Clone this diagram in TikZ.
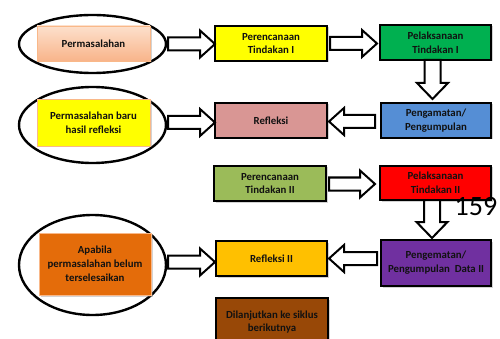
\documentclass[tikz,border=0pt]{standalone}
\usepackage{fontspec}
\setmainfont{Carlito}
\usetikzlibrary{shadows,shapes.geometric}
\definecolor{txt}{HTML}{111111}
\definecolor{peachT}{HTML}{FDE0CC}
\definecolor{peachB}{HTML}{F8B48A}
\definecolor{peachE}{HTML}{F9B889}
\definecolor{cYel}{HTML}{FFFF00}
\definecolor{cGreen}{HTML}{00B050}
\definecolor{cPink}{HTML}{D99694}
\definecolor{cBlue}{HTML}{558ED5}
\definecolor{cOlive}{HTML}{9BBB59}
\definecolor{cRed}{HTML}{FF0000}
\definecolor{cGold}{HTML}{FFC000}
\definecolor{cPurple}{HTML}{7030A0}
\definecolor{cBrown}{HTML}{984807}
\definecolor{cOrange}{HTML}{E46C0A}
\tikzset{
  box/.style={draw=black, line width=1.1pt, align=center, text=txt,
    font=\bfseries\fontsize{10.8}{13.8}\selectfont, inner sep=1pt,
    drop shadow={shadow xshift=1.5pt, shadow yshift=-1.5pt, opacity=0.35}},
  lightbox/.style={box, draw=peachE, line width=0.9pt},
  oval/.style={draw=black, line width=2.4pt, ellipse, inner sep=0pt},
  barrow/.style={draw=black, fill=white, line width=2pt, line join=miter},
}
% right-pointing block arrow: #1 tail x, #2 tip x, #3 centre y
\newcommand\rblock[3]{\draw[barrow] (#1,#3-6.5) -- (#2-15,#3-6.5) -- (#2-15,#3-13.5) -- (#2,#3) -- (#2-15,#3+13.5) -- (#2-15,#3+6.5) -- (#1,#3+6.5) -- cycle;}
% left-pointing block arrow: #1 tail x, #2 tip x, #3 centre y
\newcommand\lblock[3]{\draw[barrow] (#1,#3-6.5) -- (#2+15,#3-6.5) -- (#2+15,#3-13.5) -- (#2,#3) -- (#2+15,#3+13.5) -- (#2+15,#3+6.5) -- (#1,#3+6.5) -- cycle;}
% down-pointing block arrow: #1 centre x, #2 tail y, #3 tip y
\newcommand\dblock[3]{\draw[barrow] (#1-8,#2) -- (#1+8,#2) -- (#1+8,#3-16) -- (#1+15.5,#3-16) -- (#1,#3) -- (#1-15.5,#3-16) -- (#1-8,#3-16) -- (#1-8,#2) -- cycle;}
\begin{document}
\begin{tikzpicture}[x=1pt,y=-1pt]
\useasboundingbox (0,0) rectangle (500,339);
\clip (0,0) rectangle (500,339);
% ellipses
\node[oval, minimum width=147pt, minimum height=58pt] (e1) at (92.5,44) {};
\node[oval, minimum width=147pt, minimum height=76pt] (e2) at (92.5,125) {};
\node[oval, minimum width=147pt, minimum height=100pt] (e3) at (92.5,265) {};
% boxes
\node[lightbox, top color=peachT, bottom color=peachB, minimum width=113pt, minimum height=35pt] (perm) at (93.5,43.5) {Permasalahan};
\node[box, fill=cYel, minimum width=112pt, minimum height=35pt] (ren1) at (271,43.5) {Perencanaan\\Tindakan I};
\node[box, fill=cGreen, minimum width=111pt, minimum height=35pt] (pel1) at (435.5,42.5) {Pelaksanaan\\Tindakan I};
\node[lightbox, fill=cYel, minimum width=113pt, minimum height=47pt] (baru) at (93.5,122.5) {Permasalahan baru\\hasil refleksi};
\node[box, fill=cPink, minimum width=112pt, minimum height=35pt] (ref1) at (271,120.5) {Refleksi};
\node[box, fill=cBlue, minimum width=110pt, minimum height=35pt] (pen1) at (436,120.5) {Pengamatan/\\Pengumpulan};
\node[box, fill=cOlive, minimum width=112pt, minimum height=35pt] (ren2) at (270,183.5) {Perencanaan\\Tindakan II};
\node[box, fill=cRed, minimum width=111pt, minimum height=34pt] (pel2) at (435.5,183) {Pelaksanaan\\Tindakan II};
\node[lightbox, fill=cOrange, minimum width=112pt, minimum height=62pt] (apa) at (95,264) {Apabila\\permasalahan belum\\terselesaikan};
\node[box, fill=cGold, minimum width=111pt, minimum height=35pt] (ref2) at (271.5,258.5) {Refleksi II};
\node[box, fill=cPurple, minimum width=110pt, minimum height=46pt] (pen2) at (436,263) {Pengematan/\\Pengumpulan~ Data II};
\node[box, fill=cBrown, minimum width=112pt, minimum height=48pt] (lanj) at (272,322) {Dilanjutkan ke siklus\\berikutnya};
% block arrows
\rblock{168}{215}{44}
\rblock{330}{377}{43.5}
\dblock{432.5}{60}{99}
\rblock{168}{215}{122.5}
\lblock{375}{329}{121.5}
\rblock{329}{375}{184}
\dblock{432}{200}{238}
\rblock{168}{215}{262}
\lblock{377}{329}{258.5}
% page number
\node[anchor=base, font=\fontsize{28}{30}\selectfont, inner sep=0pt] (num) at (476,215) {159};
\end{tikzpicture}
\end{document}
